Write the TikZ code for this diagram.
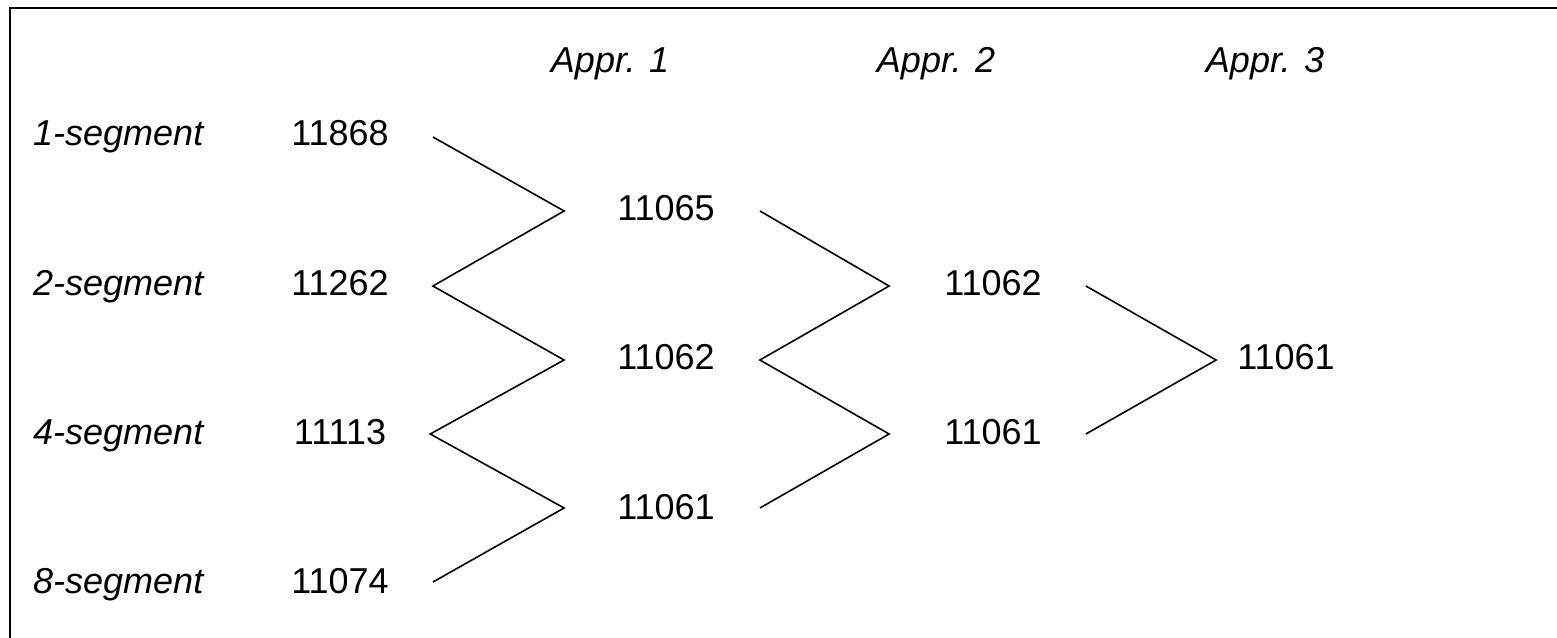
\documentclass[tikz,border=0pt]{standalone}
\usepackage{fontspec}
\setmainfont{Liberation Sans}
\usetikzlibrary{calc}
\newcommand{\bigtext}{\fontsize{36}{43}\selectfont}
\begin{document}
\begin{tikzpicture}[x=1pt,y=-1pt,
  num/.style={font=\bigtext, inner sep=0pt, anchor=base},
  lab/.style={font=\bigtext\itshape, inner sep=0pt, anchor=base west},
  hdr/.style={font=\bigtext\itshape, inner sep=0pt, anchor=base},
  link/.style={line width=1.6pt, line join=miter},
  frame/.style={line width=2.4pt}]
\useasboundingbox (0,0) rectangle (1557,637);
% frame (top and left edges)
\draw[frame] (10,650) -- (10,8) -- (1570,8);

% column headers
\node[hdr] (h1) at (610,72) {Appr. 1};
\node[hdr] (h2) at (936,72) {Appr. 2};
\node[hdr] (h3) at (1265,72) {Appr. 3};

% row labels
\node[lab] (l1) at (33,145) {1-segment};
\node[lab] (l2) at (33,295) {2-segment};
\node[lab] (l4) at (33,444) {4-segment};
\node[lab] (l8) at (33,593) {8-segment};

% raw values
\node[num] (s1) at (340,145) {11868};
\node[num] (s2) at (340,295) {11262};
\node[num] (s4) at (340,444) {11113};
\node[num] (s8) at (340,593) {11074};

% first approximation
\node[num] (a1) at (666,220) {11065};
\node[num] (a2) at (666,369) {11062};
\node[num] (a3) at (666,519) {11061};

% second approximation
\node[num] (b1) at (993,295) {11062};
\node[num] (b2) at (993,444) {11061};

% third approximation
\node[num] (c1) at (1286,369) {11061};

% zigzag links: raw -> first
\draw[link] ($(s1.base east)+(44,-8)$) -- ($(a1.base west)+(-53,-9)$)
  -- ($(s2.base east)+(44,-9)$) -- ($(a2.base west)+(-53,-9)$)
  -- ($(s4.base east)+(44,-10)$) -- ($(a3.base west)+(-53,-11)$)
  -- ($(s8.base east)+(44,-11)$);
% first -> second
\draw[link] ($(a1.base east)+(45,-9)$) -- ($(b1.base west)+(-55,-9)$)
  -- ($(a2.base east)+(45,-9)$) -- ($(b2.base west)+(-55,-10)$)
  -- ($(a3.base east)+(45,-11)$);
% second -> third
\draw[link] ($(b1.base east)+(44,-9)$) -- ($(c1.base west)+(-21,-9)$)
  -- ($(b2.base east)+(44,-10)$);
\end{tikzpicture}
\end{document}
